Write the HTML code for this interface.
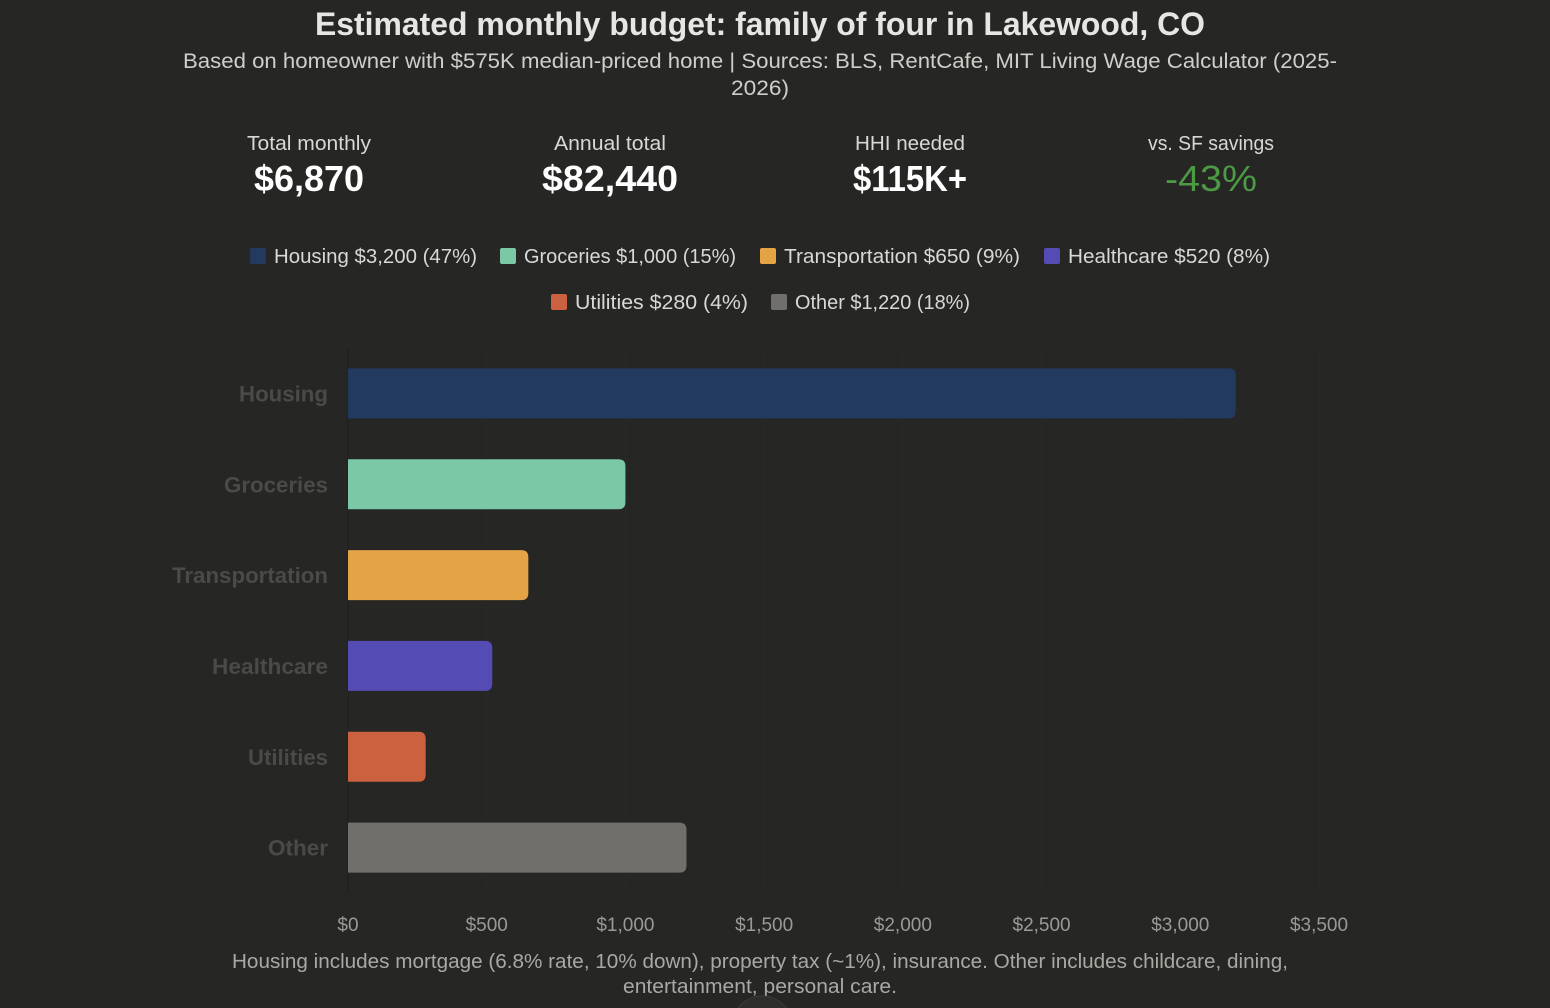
<!DOCTYPE html>
<html><head><meta charset="utf-8"><style>
html,body{margin:0;padding:0;background:#262624;}
svg{display:block;font-family:"Liberation Sans",sans-serif;}
</style></head><body>
<svg id="chart" width="1550" height="1008" viewBox="0 0 1550 1008">
<rect width="1550" height="1008" fill="#262624"/>
<text x="760" y="35" text-anchor="middle" font-size="32" font-weight="bold" fill="#e6e6e2" textLength="890" lengthAdjust="spacingAndGlyphs">Estimated monthly budget: family of four in Lakewood, CO</text>
<text x="760" y="68" text-anchor="middle" font-size="21" fill="#cfcfca" textLength="1154" lengthAdjust="spacingAndGlyphs">Based on homeowner with $575K median-priced home | Sources: BLS, RentCafe, MIT Living Wage Calculator (2025-</text>
<text x="760" y="95" text-anchor="middle" font-size="21" fill="#cfcfca" textLength="58" lengthAdjust="spacingAndGlyphs">2026)</text>
<g>
<text x="309" y="150" text-anchor="middle" font-size="20" fill="#d8d8d4" textLength="124" lengthAdjust="spacingAndGlyphs">Total monthly</text>
<text x="309" y="191" text-anchor="middle" font-size="36" font-weight="bold" fill="#ffffff" textLength="110" lengthAdjust="spacingAndGlyphs">$6,870</text></g>
<g>
<text x="610" y="150" text-anchor="middle" font-size="20" fill="#d8d8d4" textLength="112" lengthAdjust="spacingAndGlyphs">Annual total</text>
<text x="610" y="191" text-anchor="middle" font-size="36" font-weight="bold" fill="#ffffff" textLength="136" lengthAdjust="spacingAndGlyphs">$82,440</text></g>
<g>
<text x="910" y="150" text-anchor="middle" font-size="20" fill="#d8d8d4" textLength="110" lengthAdjust="spacingAndGlyphs">HHI needed</text>
<text x="910" y="191" text-anchor="middle" font-size="36" font-weight="bold" fill="#ffffff" textLength="114" lengthAdjust="spacingAndGlyphs">$115K+</text></g>
<g>
<text x="1211" y="150" text-anchor="middle" font-size="20" fill="#d8d8d4" textLength="126" lengthAdjust="spacingAndGlyphs">vs. SF savings</text>
<text x="1211" y="191" text-anchor="middle" font-size="36" fill="#4d9a45" textLength="92" lengthAdjust="spacingAndGlyphs">-43%</text></g>
<g id="legend"></g>
<g id="grid"></g>
<g id="bars"></g>
<g id="ylabels"></g>
<g id="xticks"></g>
<text x="760" y="968" text-anchor="middle" font-size="20" fill="#a9a9a4" textLength="1056" lengthAdjust="spacingAndGlyphs">Housing includes mortgage (6.8% rate, 10% down), property tax (~1%), insurance. Other includes childcare, dining,</text>
<text x="760" y="993" text-anchor="middle" font-size="20" fill="#a9a9a4" textLength="274" lengthAdjust="spacingAndGlyphs">entertainment, personal care.</text>
<circle cx="762" cy="1026" r="30" fill="#2e2e2c" stroke="#3a3a38"/>
</svg>
<script>
const categories=["Housing","Groceries","Transportation","Healthcare","Utilities","Other"];
const values=[3200,1000,650,520,280,1220];
const colors=["#223a5e","#7ac8a6","#e4a446","#554bb5","#cc613f","#706f6b"];
const legendLabels=["Housing $3,200 (47%)","Groceries $1,000 (15%)","Transportation $650 (9%)","Healthcare $520 (8%)","Utilities $280 (4%)","Other $1,220 (18%)"];
const ticks=[0,500,1000,1500,2000,2500,3000,3500];
const tickLabels=["$0","$500","$1,000","$1,500","$2,000","$2,500","$3,000","$3,500"];
const NS="http://www.w3.org/2000/svg";
const X0=348,X1=1319,XMAX=3500,YTOP=348,YBOT=893;
const xs=v=>X0+(v/XMAX)*(X1-X0);
const band=(YBOT-YTOP)/categories.length;
const ys=i=>YTOP+band*i+band/2;
function mk(t,a,p){const e=document.createElementNS(NS,t);for(const k in a)e.setAttribute(k,a[k]);p.appendChild(e);return e;}
const grid=document.getElementById('grid');
ticks.forEach((t,i)=>{
 const l=mk('line',{x1:xs(t),x2:xs(t),y1:YTOP,y2:YBOT,stroke:i==0?'#1e1e1c':'#2a2a28','stroke-width':1},grid);
 
 
 const tx=mk('text',{x:xs(t),y:931,'text-anchor':'middle','font-size':19,fill:'#9a9a96'},document.getElementById('xticks'));
 tx.textContent=tickLabels[i];
 
 
});
const bars=document.getElementById('bars');
const labelW=[89,104,156,116,80,60];
values.forEach((v,i)=>{
 const w=xs(v)-X0,y=ys(i)-25;
 const p=mk('path',{d:`M${X0},${y}H${X0+w-7}Q${X0+w},${y} ${X0+w},${y+7}V${y+43}Q${X0+w},${y+50} ${X0+w-7},${y+50}H${X0}Z`,fill:colors[i]},bars);
 
 
 const t=mk('text',{x:328,y:ys(i)+8,'text-anchor':'end','font-size':22,'font-weight':'bold',fill:'#4a4a48',textLength:labelW[i],lengthAdjust:'spacingAndGlyphs'},document.getElementById('ylabels'));
 t.textContent=categories[i];
 
 
});
const legend=document.getElementById('legend');
const lx=[250,500,760,1044,551,771],ly=[256,256,256,256,302,302],lw=[203,212,236,202,173,175];
legendLabels.forEach((s,i)=>{
 const g=mk('g',{},legend);
 
 
 mk('rect',{x:lx[i],y:ly[i]-8,width:16,height:16,rx:2,fill:colors[i]},g);
 const t=mk('text',{x:lx[i]+24,y:ly[i]+7,'font-size':20,fill:'#d8d8d4',textLength:lw[i],lengthAdjust:'spacingAndGlyphs'},g);
 t.textContent=s;
});
</script>
</body></html>
